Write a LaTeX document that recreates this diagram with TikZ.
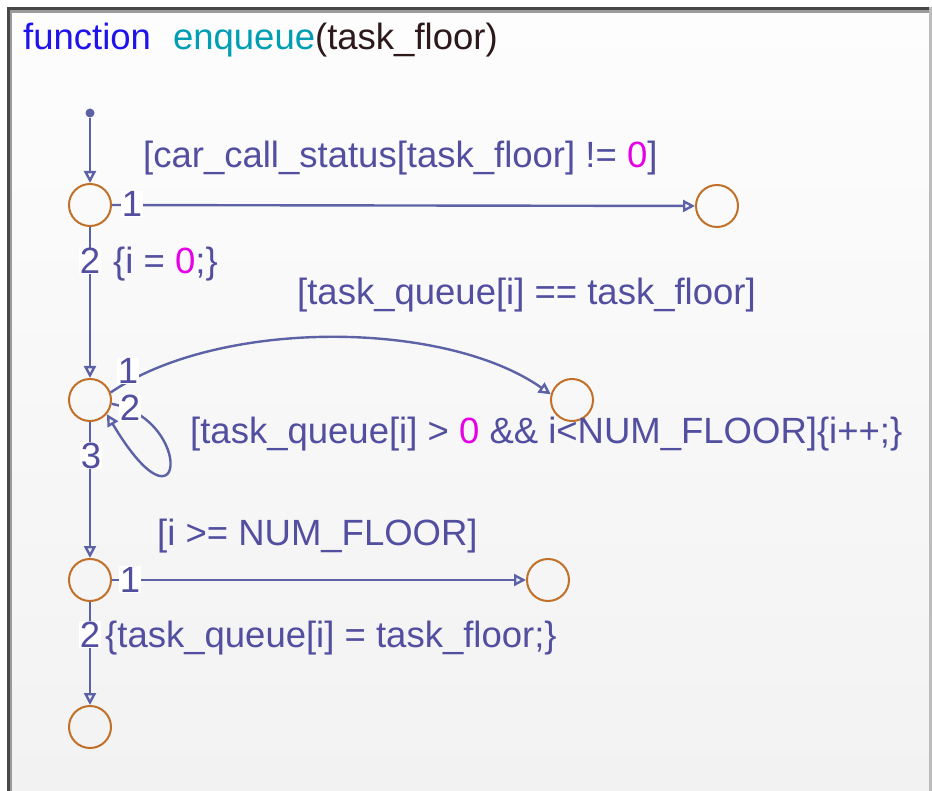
\documentclass[tikz,border=0pt]{standalone}
\usepackage{fontspec}
\setsansfont{Liberation Sans}
\usetikzlibrary{
  arrows.meta,
  positioning
}
\definecolor{transblue}{RGB}{92,98,165}
\definecolor{labelblue}{RGB}{82,78,160}
\definecolor{junctorange}{RGB}{192,112,40}
\definecolor{kwblue}{RGB}{30,20,235}
\definecolor{fnteal}{RGB}{0,158,178}
\definecolor{argdark}{RGB}{45,25,25}
\definecolor{constmag}{RGB}{230,0,230}
\definecolor{bgtop}{RGB}{253,253,253}
\definecolor{bgbottom}{RGB}{242,242,242}
\definecolor{framedark}{RGB}{72,72,72}
\definecolor{framelight}{RGB}{155,155,155}
\definecolor{frameright}{RGB}{188,188,188}

\begin{document}
\begin{tikzpicture}[
    x=1pt, y=-1pt,
    every node/.style={font=\sffamily\fontsize{36.5}{40}\selectfont},
    junction/.style={circle, draw=junctorange, line width=2pt,
                 minimum size=42pt, inner sep=0pt},
    trans/.style={draw=transblue, line width=2.4pt,
                 -{Triangle[open, length=12pt, width=12pt]}},
    condtext/.style={text=labelblue, anchor=base west, inner sep=0pt},
    numlabel/.style={text=labelblue, fill=white, anchor=base, inner sep=0.5pt},
]
\useasboundingbox (0,0) rectangle (932,791);

% Chart frame
\fill[white] (0,0) rectangle (932,791);
\shade[top color=bgtop, bottom color=bgbottom] (12,13) rectangle (929,791);
\fill[framedark] (7,7) rectangle (929,10);
\fill[framedark] (7,7) rectangle (10,791);
\fill[framelight] (10,10) rectangle (929,13);
\fill[framelight] (10,10) rectangle (12,791);
\fill[frameright] (929,7) rectangle (932,791);

\node[anchor=base west, inner sep=0pt] (title) at (23,50)
  {\textcolor{kwblue}{function}\hspace{22pt}\textcolor{fnteal}{enqueue}\textcolor{argdark}{(task\_floor)}};

% Junctions
\node[circle, fill=transblue, minimum size=9pt, inner sep=0pt] (dflt) at (90,113) {};
\node[junction] (j1) at (90,205) {};
\node[junction] (r1) at (717,206) {};
\node[junction] (j2) at (90,400) {};
\node[junction] (r2) at (572,400) {};
\node[junction] (j4) at (90,580) {};
\node[junction] (r3) at (548,580) {};
\node[junction] (j5) at (90,727) {};

% Transitions
\draw[trans] (dflt) -- (j1);
\draw[trans] (j1) -- (r1);
\draw[trans] (j1) -- (j2);
\draw[trans] (j2.20) .. controls (220,318) and (445,320) .. (r2.165);
\draw[trans] (j2.-10) .. controls (195,420) and (185,545) .. (j2.-40);
\draw[trans] (j2) -- (j4);
\draw[trans] (j4) -- (r3);
\draw[trans] (j4) -- (j5);

% Execution order numbers
\node[numlabel] (j1n1) at (132,217) {1};
\node[numlabel] (j1n2) at (90,274) {2};
\node[numlabel] (j2n1) at (128,384) {1};
\node[numlabel] (j2n2) at (130,421) {2};
\node[numlabel] (j2n3) at (91,468) {3};
\node[numlabel] (j4n1) at (130,592) {1};
\node[numlabel] (j4n2) at (90,647) {2};

% Conditions and actions
\node[condtext] (c1) at (143,168)
  {[car\_call\_status[task\_floor] != \textcolor{constmag}{0}]};
\node[condtext] (a1) at (113,274) {\{i = \textcolor{constmag}{0};\}};
\node[condtext] (c2) at (297,305) {[task\_queue[i] == task\_floor]};
\node[condtext] (c3) at (190,444)
  {[task\_queue[i] > \textcolor{constmag}{0} \&\& i<NUM\_FLOOR]\{i++;\}};
\node[condtext] (c4) at (157,545) {[i >= NUM\_FLOOR]};
\node[condtext] (a2) at (105,647) {\{task\_queue[i] = task\_floor;\}};

\end{tikzpicture}
\end{document}
